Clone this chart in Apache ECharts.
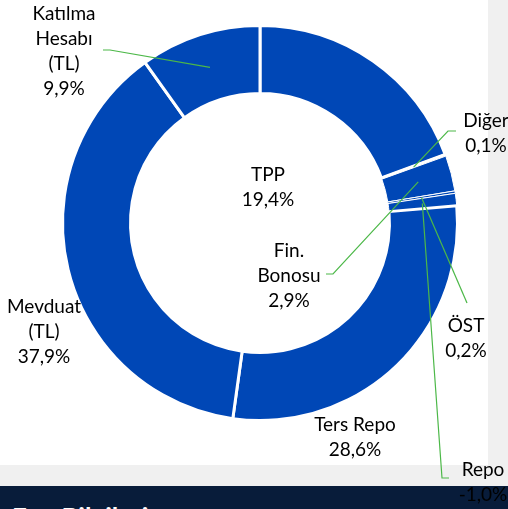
<!DOCTYPE html>
<html>
<head>
<meta charset="utf-8">
<script src="https://cdn.jsdelivr.net/npm/echarts@6/dist/echarts.min.js"></script>
<style>
  html, body { margin: 0; padding: 0; background: #fff; }
  #page { position: relative; width: 508px; height: 509px; overflow: hidden; }
  .side { position: absolute; left: 488px; top: 0; width: 20px; height: 486px; background: #f0f0f0; }
  .foot { position: absolute; left: 0; top: 465px; width: 508px; height: 21px; background: #f0f0f0; }
  .band { position: absolute; left: 0; top: 486px; width: 508px; height: 23px; background: #081c3a; overflow: hidden; }
  .band span { position: absolute; left: 12px; top: 18px; color: #fff; font: bold 26px Lato, sans-serif; line-height: 26px; white-space: nowrap; }
  #chart { position: absolute; left: 0; top: 0; width: 508px; height: 509px; }
</style>
</head>
<body>
<div id="page">
  <div class="side"></div>
  <div class="foot"></div>
  <div class="band"><span>Fon Bilgileri</span></div>
  <div id="chart"></div>
</div>
<script>
// fund allocation (%), clockwise from 12 o'clock
const categories = ['TPP', 'Diğer', 'Fin.\nBonosu', 'ÖST', 'Repo', 'Ters Repo', 'Mevduat\n(TL)', 'Katılma\nHesabı\n(TL)'];
const shares = [19.4, 0.1, 2.9, 0.2, -1.0, 28.6, 37.9, 9.9];

// label layout (text block centres and leader-line bends)
const labelCenters = [[268, 187], [486, 133], [289, 276], [466, 338], [483, 482], [355, 437], [44, 332], [64, 51]];
const leaderBends = [null, [[448, 131], [456, 131]], [[333, 274], [326, 274]], [[467, 303]], [[442, 478], [449, 478]], null, null, [[110, 50], [103, 50]]];
const thinBorder = [false, false, true, true, true, false, false, false];

const cx = 260, cy = 223, r0 = 129.5, r1 = 197.5;
const blue = '#0047b6';

const total = shares.reduce((s, v) => s + Math.abs(v), 0);
let acc = 0;
const anchors = shares.map((v) => {
  const mid = (acc + Math.abs(v) / 2) / total * Math.PI * 2;
  acc += Math.abs(v);
  const rm = (r0 + r1) / 2;
  return [cx + rm * Math.sin(mid), cy - rm * Math.cos(mid)];
});

const fmt = (v) => v.toFixed(1).replace('.', ',') + '%';

// leader lines sit on top of the ring, like the original
const leaders = [];
leaderBends.forEach((bends, i) => {
  if (!bends) return;
  leaders.push({
    type: 'polyline',
    z: 100,
    silent: true,
    shape: { points: [anchors[i]].concat(bends) },
    style: { stroke: '#4cb848', lineWidth: 1.2, fill: null },
  });
});

const chart = echarts.init(document.getElementById('chart'));

chart.setOption({
  backgroundColor: 'transparent',
  animation: false,
  graphic: leaders,
  series: [
    {
      type: 'pie',
      center: [cx, cy],
      radius: [r0, r1],
      startAngle: 90,
      clockwise: true,
      avoidLabelOverlap: false,
      itemStyle: {
        color: blue,
        borderColor: '#fff',
        borderWidth: 3,
      },
      label: {
        show: true,
        color: '#000',
        fontFamily: 'Lato',
        fontSize: 19,
        lineHeight: 25,
        align: 'center',
        formatter: (p) => p.name + '\n' + fmt(shares[p.dataIndex]),
      },
      labelLine: { show: false },
      labelLayout: (p) => ({
        x: labelCenters[p.dataIndex][0],
        y: labelCenters[p.dataIndex][1],
        align: 'center',
        verticalAlign: 'middle',
      }),
      data: categories.map((name, i) => ({
        name: name,
        value: Math.abs(shares[i]),
        itemStyle: i === 1 ? { borderWidth: 4 } : thinBorder[i] ? { borderWidth: 1 } : {},
      })),
    },
  ],
});
</script>
</body>
</html>
